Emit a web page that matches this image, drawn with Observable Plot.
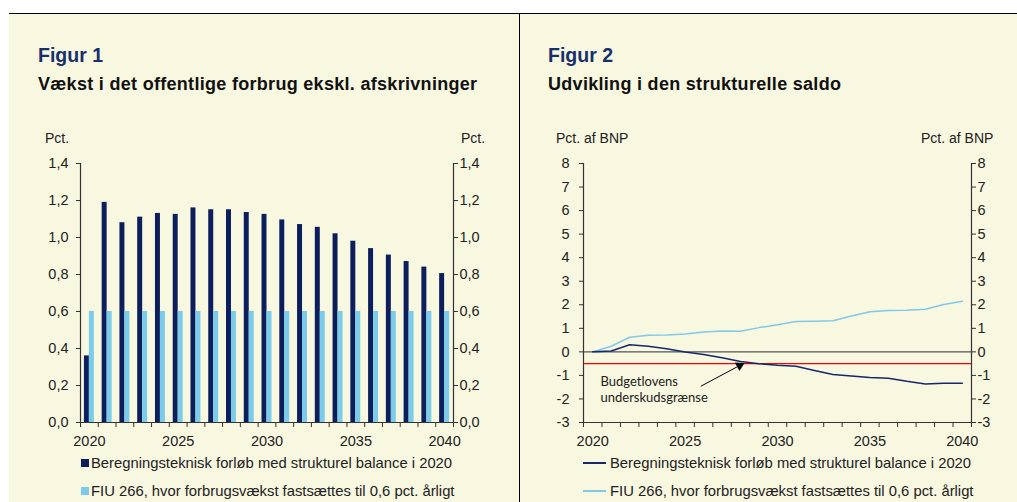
<!DOCTYPE html>
<html><head><meta charset="utf-8">
<script src="https://cdn.jsdelivr.net/npm/d3@7"></script>
<script src="https://cdn.jsdelivr.net/npm/@observablehq/plot@0.6"></script>
<style>
body{margin:0;background:#fff;font-family:"Liberation Sans",Arial,sans-serif;}
#wrap{position:relative;width:1017px;height:502px;overflow:hidden;background:#fff;}
.abs{position:absolute;white-space:nowrap;line-height:1;}
.panel{position:absolute;background:#f8f7e0;}
.fig{font-weight:bold;color:#172f6b;font-size:19.5px;}
.ttl{font-weight:bold;color:#111;font-size:18px;letter-spacing:0.3px;}
.unit{font-size:14px;color:#222;}
.leg{font-size:14.8px;color:#222;}
.sw{position:absolute;}
svg{position:absolute;overflow:visible;}
</style></head><body><div id="wrap">
<div class="abs" style="left:9px;top:13px;width:1008px;height:1px;background:#000"></div>
<div class="panel" style="left:9px;top:14px;width:510px;height:488px"></div>
<div class="abs" style="left:519px;top:14px;width:1px;height:488px;background:#000"></div>
<div class="panel" style="left:520px;top:14px;width:497px;height:488px"></div>
<div class="abs fig" style="left:38px;top:46px">Figur 1</div>
<div class="abs ttl" style="left:38px;top:75px">Vækst i det offentlige forbrug ekskl. afskrivninger</div>
<div class="abs fig" style="left:548px;top:46px">Figur 2</div>
<div class="abs ttl" style="left:548px;top:75px">Udvikling i den strukturelle saldo</div>
<div class="abs unit" style="left:45px;top:131px">Pct.</div>
<div class="abs unit" style="left:461px;top:131px">Pct.</div>
<div class="abs unit" style="left:556px;top:131px">Pct. af BNP</div>
<div class="abs unit" style="left:921px;top:131px">Pct. af BNP</div>
<div id="c1"></div><div id="c2"></div>
<div id="legends"></div>
</div>
<script>
// ---- data ----
const years = [2020,2021,2022,2023,2024,2025,2026,2027,2028,2029,2030,2031,2032,2033,2034,2035,2036,2037,2038,2039,2040];
const xLabelYears = [2020,2025,2030,2035,2040];
const seriesNames = ["Beregningsteknisk forløb med strukturel balance i 2020","FIU 266, hvor forbrugsvækst fastsættes til 0,6 pct. årligt"];
// Figur 1: vækst i offentligt forbrug (pct.)
const fig1Beregning = [0.36,1.19,1.08,1.11,1.13,1.125,1.16,1.15,1.15,1.135,1.125,1.095,1.07,1.055,1.02,0.98,0.94,0.905,0.87,0.84,0.805];
const fig1FIU = [0.6,0.6,0.6,0.6,0.6,0.6,0.6,0.6,0.6,0.6,0.6,0.6,0.6,0.6,0.6,0.6,0.6,0.6,0.6,0.6,0.6];
const fig1YTicks = [0,0.2,0.4,0.6,0.8,1.0,1.2,1.4];
// Figur 2: strukturel saldo (pct. af BNP)
const fig2Beregning = [0,0.04,0.30,0.24,0.13,-0.01,-0.11,-0.25,-0.41,-0.50,-0.57,-0.61,-0.79,-0.96,-1.03,-1.09,-1.12,-1.25,-1.36,-1.33,-1.33];
const fig2FIU = [0,0.24,0.62,0.71,0.72,0.76,0.84,0.89,0.88,1.03,1.15,1.29,1.30,1.32,1.52,1.70,1.76,1.77,1.81,2.01,2.15];
const fig2YTicks = [-3,-2,-1,0,1,2,3,4,5,6,7,8];
const budgetLimit = [-0.5];
const annotationText = [{x:2020.42, y:-1.58, text:"Budgetlovens\nunderskudsgrænse"}];
const annotationArrow = [{x1:2025.85, y1:-1.46, x2:2027.95, y2:-0.58}];

const colDark = "#0c1f5c", colLight = "#7accea";
const lineDark = "#15286b", lineLight = "#80c9ea";

const boundaries = years.map(y => y - 0.5).concat([years[years.length-1] + 0.5]);
const xDomain = [boundaries[0], boundaries[boundaries.length-1]];
const barW = 0.28;
const fmt1 = d => d3.format(".1f")(d).replace(".", ",");
const FS = 14.5;

const rowsB1 = years.map((y,i)=>({year:y, value:fig1Beregning[i]}));
const rowsF1 = years.map((y,i)=>({year:y, value:fig1FIU[i]}));
const rowsB2 = years.map((y,i)=>({year:y, value:fig2Beregning[i]}));
const rowsF2 = years.map((y,i)=>({year:y, value:fig2FIU[i]}));

const baseStyle = {background:"transparent", fontFamily:"Liberation Sans, Arial, sans-serif", fontSize:"14.5px", color:"#222", overflow:"visible"};

const p1 = Plot.plot({
  width:510, height:320, marginLeft:71, marginRight:66, marginTop:23, marginBottom:38,
  style: baseStyle,
  x:{domain:xDomain},
  y:{domain:[0,1.4]},
  marks:[
    Plot.rectY(rowsB1, {x1:d=>d.year-barW, x2:d=>d.year, y1:0, y2:"value", fill:colDark}),
    Plot.rectY(rowsF1, {x1:d=>d.year, x2:d=>d.year+barW, y1:0, y2:"value", fill:colLight}),
    Plot.ruleX([xDomain[0], xDomain[1]], {stroke:"#333", strokeWidth:1.2}),
    Plot.ruleY([0], {stroke:"#333", strokeWidth:1.2}),
    Plot.axisY({anchor:"left", ticks:fig1YTicks, tickFormat:fmt1, tickSize:4, tickPadding:8, label:null, stroke:"#333", fontSize:FS}),
    Plot.axisY({anchor:"right", ticks:fig1YTicks, tickFormat:fmt1, tickSize:4, tickPadding:2, label:null, stroke:"#333", fontSize:FS}),
    Plot.axisX({ticks:boundaries, tickFormat:()=>"", tickSize:5, label:null, stroke:"#333"}),
    Plot.axisX({ticks:xLabelYears, tickFormat:d=>String(d), tickSize:0, tickPadding:13, label:null, fontSize:FS})
  ]
});
p1.style.left = "9px"; p1.style.top = "140px";
document.getElementById("c1").appendChild(p1);

const p2 = Plot.plot({
  width:497, height:320, marginLeft:63, marginRight:46, marginTop:23, marginBottom:38,
  style: baseStyle,
  x:{domain:xDomain},
  y:{domain:[-3,8]},
  marks:[
    Plot.ruleY([0], {stroke:"#555", strokeWidth:1.4}),
    Plot.ruleY(budgetLimit, {stroke:"#ff0000", strokeWidth:1.2}),
    Plot.line(rowsF2, {x:"year", y:"value", stroke:lineLight, strokeWidth:1.5}),
    Plot.line(rowsB2, {x:"year", y:"value", stroke:lineDark, strokeWidth:1.5}),
    Plot.text(annotationText, {x:"x", y:"y", text:"text", textAnchor:"start", lineAnchor:"middle", lineHeight:1.2, fontFamily:"Lato, 'Open Sans', sans-serif", fontSize:13, fill:"#222"}),
    Plot.link(annotationArrow, {x1:"x1", y1:"y1", x2:"x2", y2:"y2", stroke:"#000", strokeWidth:1}),
    Plot.dot(annotationArrow, {x:"x2", y:"y2", symbol:"triangle", r:3.6, fill:"#000", stroke:null, rotate:62}),
    Plot.ruleX([xDomain[0], xDomain[1]], {stroke:"#333", strokeWidth:1.2}),
    Plot.ruleY([-3], {stroke:"#333", strokeWidth:1.2}),
    Plot.axisY({anchor:"left", ticks:fig2YTicks, tickFormat:d=>String(d), tickSize:4, tickPadding:10, label:null, stroke:"#333", fontSize:FS}),
    Plot.axisY({anchor:"right", ticks:fig2YTicks, tickFormat:d=>String(d), tickSize:4, tickPadding:2, label:null, stroke:"#333", fontSize:FS}),
    Plot.axisX({ticks:boundaries, tickFormat:()=>"", tickSize:5, label:null, stroke:"#333"}),
    Plot.axisX({ticks:xLabelYears, tickFormat:d=>String(d), tickSize:0, tickPadding:13, label:null, fontSize:FS})
  ]
});
p2.style.left = "520px"; p2.style.top = "140px";
document.getElementById("c2").appendChild(p2);

// ---- legends ----
const leg = document.getElementById("legends");
const legItems = [
  {x:81, y:459, kind:"box", color:colDark, text:seriesNames[0]},
  {x:81, y:487, kind:"box", color:colLight, text:seriesNames[1]},
  {x:583, y:459, kind:"line", color:lineDark, text:seriesNames[0]},
  {x:583, y:487, kind:"line", color:lineLight, text:seriesNames[1]}
];
legItems.forEach(it => {
  const sw = document.createElement("div");
  sw.className = "sw";
  if (it.kind === "box") {
    sw.style.cssText = `left:${it.x}px;top:${it.y}px;width:8px;height:8px;background:${it.color}`;
  } else {
    sw.style.cssText = `left:${it.x}px;top:${it.y+3}px;width:23px;height:1.5px;background:${it.color}`;
  }
  leg.appendChild(sw);
  const t = document.createElement("div");
  t.className = "abs leg";
  t.style.left = (it.kind === "box" ? it.x + 10 : it.x + 27) + "px";
  t.style.top = (it.y - 3) + "px";
  t.textContent = it.text;
  leg.appendChild(t);
});
</script></body></html>
